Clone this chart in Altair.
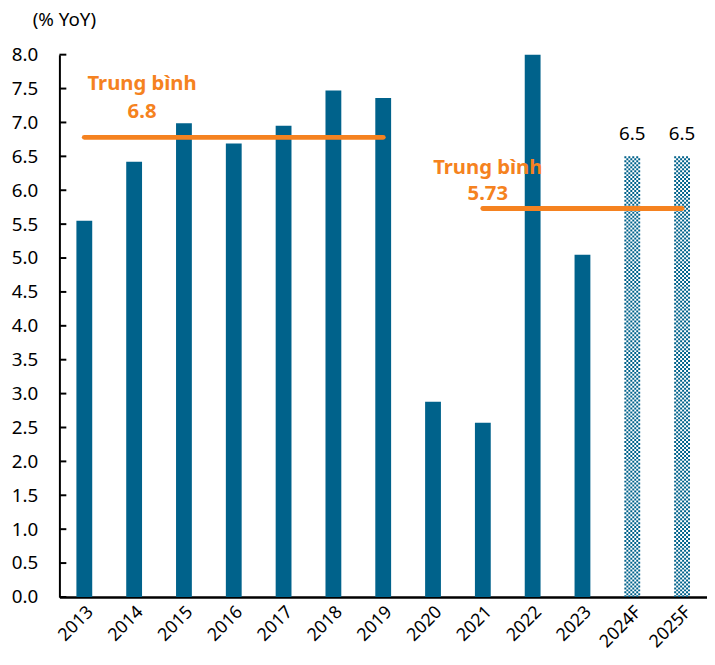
import altair as alt
import pandas as pd

years = ["2013", "2014", "2015", "2016", "2017", "2018", "2019",
         "2020", "2021", "2022", "2023", "2024F", "2025F"]
growth = [5.55, 6.42, 6.99, 6.69, 6.95, 7.47, 7.36, 2.88, 2.57, 8.00, 5.05, 6.5, 6.5]
is_forecast = [False] * 11 + [True] * 2
y_ticks = [0.0, 0.5, 1.0, 1.5, 2.0, 2.5, 3.0, 3.5, 4.0, 4.5, 5.0, 5.5, 6.0, 6.5, 7.0, 7.5, 8.0]

avg_start = ["2013", "2021"]
avg_end = ["2019", "2025F"]
avg_value = [6.78, 5.73]

ann1_x = ["2014", "2014"]
ann1_y = [7.56, 7.16]
ann1_text = ["Trung bình", "6.8"]
ann2_x = ["2021", "2021"]
ann2_y = [6.33, 5.94]
ann2_text = ["Trung bình", "5.73"]

BLUE = "#00628b"
ORANGE = "#f58220"
FONT = "Noto Sans"

df = pd.DataFrame({"year": years, "value": growth, "forecast": is_forecast})
df_avg = pd.DataFrame({"start": avg_start, "end": avg_end, "value": avg_value})
df_a1 = pd.DataFrame({"x": ann1_x, "y": ann1_y, "t": ann1_text})
df_a2 = pd.DataFrame({"x": ann2_x, "y": ann2_y, "t": ann2_text})
df_ticks = pd.DataFrame({"v": y_ticks})

xscale = alt.Scale(domain=years, paddingInner=0, paddingOuter=0)
yscale = alt.Scale(domain=[0, 8], nice=False)

XAXIS = alt.Axis(title=None, labelAngle=-45, labelFontSize=18, labelColor="black",
                 labelFont=FONT, ticks=False, domainColor="black", domainWidth=2.5,
                 labelPadding=6, labelOverlap=False, grid=False)
YAXIS = alt.Axis(title=None, values=y_ticks, format=".1f", labelFontSize=19,
                 labelColor="black", labelFont=FONT, ticks=False, grid=False,
                 domainColor="black", domainWidth=2, labelPadding=22,
                 labelOverlap=False)


def xn(field):
    return alt.X(field, scale=xscale, sort=years, axis=XAXIS)


def yq(field):
    return alt.Y(field, scale=yscale, axis=YAXIS)


base = alt.Chart(df)

bars = base.mark_bar(width=16, color=BLUE).encode(
    x=xn("year:N"), y=yq("value:Q")).transform_filter("datum.forecast == false")

hatch_layers = []
for k, off in enumerate([-7, -5, -3, -1, 1, 3, 5, 7]):
    hatch_layers.append(
        base.mark_rule(color=BLUE, strokeWidth=2, strokeDash=[2, 2],
                       strokeDashOffset=(0 if k % 2 == 0 else 2), xOffset=off)
        .encode(x=xn("year:N"), y=yq("value:Q"), y2=alt.datum(0))
        .transform_filter("datum.forecast == true")
    )

fc_labels = base.mark_text(fontSize=19, font=FONT, color="black", baseline="alphabetic",
                           dy=-17).encode(
    x=xn("year:N"), y=yq("value:Q"),
    text=alt.Text("value:Q", format=".1f"),
).transform_filter("datum.forecast == true")

avg_lines = alt.Chart(df_avg).mark_rule(color=ORANGE, strokeWidth=5, strokeCap="round").encode(
    x=xn("start:N"), x2="end:N", y=yq("value:Q"),
)

ann1 = alt.Chart(df_a1).mark_text(color=ORANGE, fontSize=20.5, fontWeight="bold", font=FONT,
                                  baseline="middle", dx=8).encode(
    x=xn("x:N"), y=yq("y:Q"), text="t:N")
ann2 = alt.Chart(df_a2).mark_text(color=ORANGE, fontSize=20.5, fontWeight="bold", font=FONT,
                                  baseline="middle", dx=5).encode(
    x=xn("x:N"), y=yq("y:Q"), text="t:N")

yticks = alt.Chart(df_ticks).mark_rule(color="black", strokeWidth=2).encode(
    y=yq("v:Q"), x=alt.value(0), x2=alt.value(7))

chart = alt.layer(bars, *hatch_layers, fc_labels, avg_lines, ann1, ann2, yticks).properties(
    width=655, height=548.5,
    title=alt.TitleParams("(% YoY)", anchor="start", fontSize=19, fontWeight="normal",
                          font=FONT, color="black", dx=-27, offset=1, frame="group",
                          baseline="alphabetic"),
    autosize=alt.AutoSizeParams(type="none"),
    padding={"left": 52, "top": 43.5, "right": 0, "bottom": 55},
).configure(background="white").configure_view(stroke=None, strokeWidth=0)

chart.save("out.html", embed_options={"renderer": "svg", "actions": False})
